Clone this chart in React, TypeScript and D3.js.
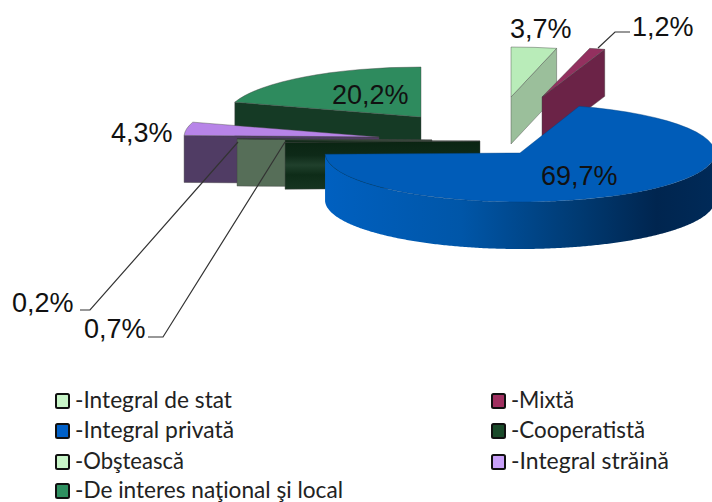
import React, { useRef, useEffect } from "react";
import * as d3 from "d3";

const categories = [
  "Integral de stat",
  "Mixtă",
  "Integral privată",
  "Cooperatistă",
  "Obştească",
  "Integral străină",
  "De interes naţional şi local",
];
const values = [3.7, 1.2, 69.7, 0.7, 0.2, 4.3, 20.2];
const valueLabels = ["3,7%", "1,2%", "69,7%", "0,7%", "0,2%", "4,3%", "20,2%"];

const width = 712;
const height = 502;
const depth = 47;

// slice centres (the pie is exploded, each slice sits somewhere else)
const layout = [
  { cx: 511, cy: 97, rx: 198, ry: 50, top: "#b9ecb9", wall: "#9bbf9b", lx: 510, ly: 29 },
  { cx: 542, cy: 97, rx: 207, ry: 50, top: "#93305f", wall: "#6b2347", lx: 632, ly: 27 },
  { cx: 520, cy: 153, rx: 195, ry: 49, top: "#005cb8", wall: "url(#blueWall)", lx: 541, ly: 176 },
  { cx: 480, cy: 141, rx: 195, ry: 50, top: "#0c2814", wall: "url(#coopWall)", lx: 84, ly: 329 },
  { cx: 432, cy: 140, rx: 195, ry: 50, top: "#14301c", wall: "#566e58", lx: 12, ly: 303 },
  { cx: 379, cy: 137, rx: 195, ry: 50, top: "#b784e8", wall: "#503c64", lx: 111, ly: 133 },
  { cx: 421, cy: 117, rx: 195, ry: 50, top: "#2e8b5e", wall: "#153a25", lx: 332, ly: 95 },
];
const drawOrder = [6, 5, 4, 3, 0, 1, 2];

const legendColors = ["#c8f5c8", "#a03060", "#0060c8", "#1a4a2a", "#c8f5c8", "#c8a0f8", "#2e9060"];
const legendItems = [
  { i: 0, x: 55, y: 401, end: 232 },
  { i: 2, x: 55, y: 431, end: 234 },
  { i: 4, x: 55, y: 462, end: 184 },
  { i: 6, x: 55, y: 491, end: 343 },
  { i: 1, x: 491, y: 401, end: 574 },
  { i: 3, x: 491, y: 431, end: 645 },
  { i: 5, x: 491, y: 462, end: 669 },
];

const leaders = [
  [[598, 48], [615, 32], [630, 32]],
  [[80, 310], [90, 310], [238, 142]],
  [[148, 337], [163, 337], [285, 142]],
];

function App() {
  const svgRef = useRef<SVGSVGElement>(null);

  useEffect(() => {
    const svg = d3.select(svgRef.current);
    svg.selectAll("*").remove();

    const defs = svg.append("defs");
    const blue = defs.append("linearGradient").attr("id", "blueWall");
    [["0%", "#0060c0"], ["35%", "#0056a8"], ["65%", "#003a72"], ["85%", "#00254f"], ["100%", "#002a58"]].forEach(
      ([o, c]) => blue.append("stop").attr("offset", o).attr("stop-color", c)
    );
    const coop = defs.append("linearGradient").attr("id", "coopWall").attr("x2", 0).attr("y2", 1);
    [["0%", "#0a2412"], ["30%", "#0e2a18"], ["50%", "#20402c"], ["70%", "#0e2c18"], ["100%", "#163420"]].forEach(
      ([o, c]) => coop.append("stop").attr("offset", o).attr("stop-color", c)
    );

    const pie = d3.pie<number>().sort(null)(values);
    const arc = d3.arc().innerRadius(0).outerRadius(100);
    const g = svg.append("g");

    const pt = (l: (typeof layout)[0], a: number) => [l.cx + l.rx * Math.sin(a), l.cy - l.ry * Math.cos(a)];

    drawOrder.forEach((i) => {
      const l = layout[i];
      const d = pie[i];

      if (i !== 2) {
        // flat wall along one radius: the two right slices show their end side
        const p = pt(l, i < 2 ? d.endAngle : d.startAngle);
        g.append("path")
          .attr("d", d3.line()([[l.cx, l.cy], p as [number, number], [p[0], p[1] + depth], [l.cx, l.cy + depth]]) + "Z")
          .attr("fill", l.wall)
          .attr("stroke", "#444")
          .attr("stroke-opacity", 0.6)
          .attr("stroke-width", 0.7);
      } else {
        // curved outer wall, only the front half shows
        const angles = d3.range(Math.PI / 2, d.endAngle, 0.01).concat(d.endAngle);
        const rim = angles.map((a) => pt(l, a) as [number, number]);
        const low = rim.map(([x, y]) => [x, y + depth] as [number, number]).reverse();
        g.append("path")
          .attr("d", d3.line()(rim.concat(low)) + "Z")
          .attr("fill", l.wall);
      }

      g.append("path")
        .attr("d", arc({ startAngle: d.startAngle, endAngle: d.endAngle } as any))
        .attr("transform", `translate(${l.cx},${l.cy}) scale(${l.rx / 100},${l.ry / 100})`)
        .attr("fill", l.top)
        .attr("stroke", i === 2 ? "#00407f" : "#444")
        .attr("stroke-opacity", 0.6)
        .attr("stroke-width", 0.7)
        .attr("vector-effect", "non-scaling-stroke");
    });

    leaders.forEach((pts) => {
      g.append("path")
        .attr("d", d3.line()(pts as [number, number][]))
        .attr("fill", "none")
        .attr("stroke", "#333")
        .attr("stroke-width", 1.2);
    });

    g.selectAll("text.val")
      .data(valueLabels)
      .join("text")
      .attr("class", "val")
      .attr("x", (_, i) => layout[i].lx)
      .attr("y", (_, i) => layout[i].ly + 9)
      .attr("font-family", "Liberation Sans")
      .attr("font-size", 27)
      .attr("fill", "#111")
      .text((d) => d);

    const legend = svg.append("g");
    legendItems.forEach(({ i, x, y, end }) => {
      legend
        .append("rect")
        .attr("x", x + 1)
        .attr("y", y - 7)
        .attr("width", 13)
        .attr("height", 14)
        .attr("rx", 1.5)
        .attr("fill", legendColors[i])
        .attr("stroke", "#111")
        .attr("stroke-width", 2);
      legend
        .append("text")
        .attr("x", x + 20)
        .attr("y", y + 7)
        .attr("font-family", "Lato")
        .attr("font-size", 23)
        .attr("fill", "#222")
        .attr("textLength", end - x - 20)
        .attr("lengthAdjust", "spacingAndGlyphs")
        .text("-" + categories[i]);
    });
  }, []);

  return (
    <svg
      ref={svgRef}
      width={width}
      height={height}
      style={{ position: "absolute", left: 0, top: 0, background: "#fff" }}
    />
  );
}

export default App;
